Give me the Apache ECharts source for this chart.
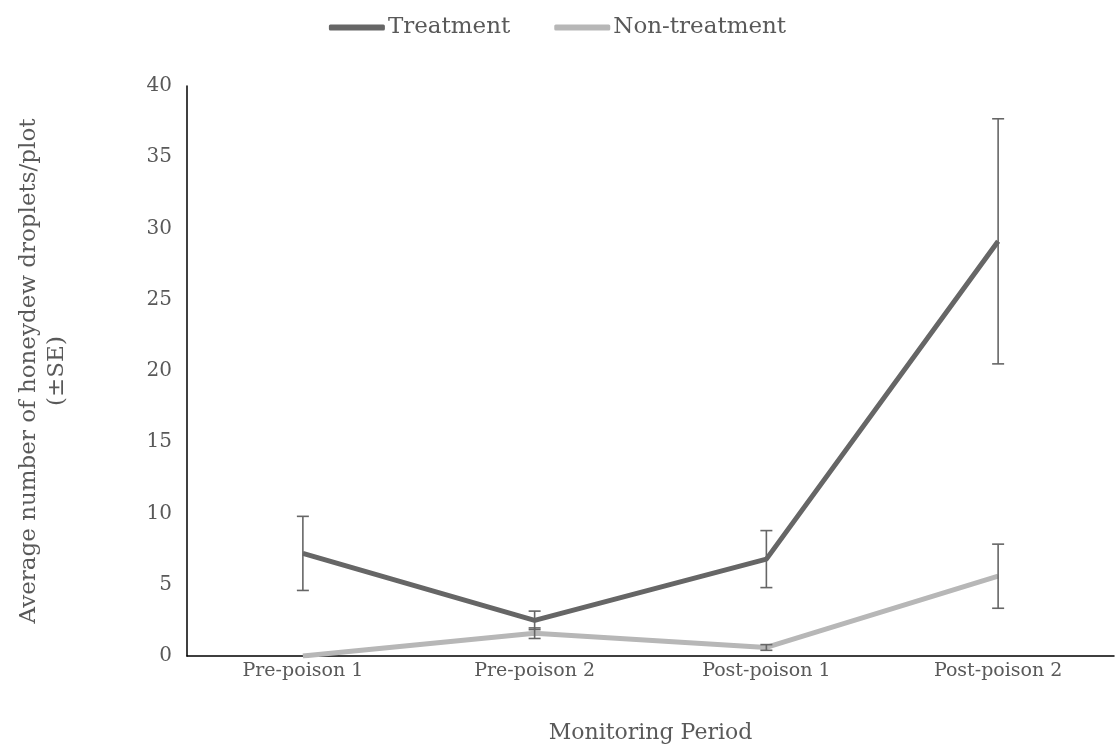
<!DOCTYPE html>
<html><head><meta charset="utf-8">
<script src="https://cdn.jsdelivr.net/npm/echarts@6/dist/echarts.min.js"></script>
<style>html,body{margin:0;padding:0;background:#fff}#c{width:1115px;height:749px}</style>
</head><body><div id="c"></div>
<script>
const categories = ['Pre-poison 1', 'Pre-poison 2', 'Post-poison 1', 'Post-poison 2'];
const treatment = [7.2, 2.5, 6.8, 29.1];
const treatmentSE = [2.6, 0.65, 2.0, 8.6];
const nonTreatment = [0, 1.6, 0.6, 5.6];
const nonTreatmentSE = [0, 0.37, 0.2, 2.25];
const yTicks = [0, 5, 10, 15, 20, 25, 30, 35, 40];

const FONT = 'DejaVu Serif';
const TXT = '#595959';

function errSeries(name, vals, se) {
  return {
    type: 'custom', name: name + ' SE', silent: true, z: 5,
    data: vals.map((v, i) => [i, v - se[i], v + se[i]]),
    renderItem: function (params, api) {
      if (api.value(2) - api.value(1) <= 0) return null;
      const lo = api.coord([api.value(0), api.value(1)]);
      const hi = api.coord([api.value(0), api.value(2)]);
      const w = 6;
      const st = { stroke: '#666666', lineWidth: 1.6 };
      return { type: 'group', children: [
        { type: 'line', shape: { x1: lo[0], y1: lo[1], x2: hi[0], y2: hi[1] }, style: st },
        { type: 'line', shape: { x1: lo[0] - w, y1: lo[1], x2: lo[0] + w, y2: lo[1] }, style: st },
        { type: 'line', shape: { x1: hi[0] - w, y1: hi[1], x2: hi[0] + w, y2: hi[1] }, style: st }
      ]};
    }
  };
}

const chart = echarts.init(document.getElementById('c'));
chart.setOption({
  animation: false,
  textStyle: { fontFamily: FONT, color: TXT },
  legend: {
    top: 11, left: 'center', itemWidth: 56, itemHeight: 6, itemGap: 44,
    icon: 'roundRect',
    textStyle: { fontFamily: FONT, color: TXT, fontSize: 23, padding: [0, 0, 0, -2] },
    data: ['Treatment', 'Non-treatment']
  },
  grid: { left: 187, right: 1, top: 86, bottom: 88 },
  xAxis: {
    type: 'category', data: categories, boundaryGap: true,
    axisLine: { lineStyle: { color: '#000', width: 1.5 } },
    axisTick: { show: false },
    axisLabel: { color: TXT, fontSize: 19, fontFamily: FONT, margin: 6 },
    name: 'Monitoring Period', nameLocation: 'middle', nameGap: 66,
    nameTextStyle: { color: TXT, fontSize: 22, fontFamily: FONT }
  },
  yAxis: {
    type: 'value', min: 0, max: 40, interval: 5,
    axisLine: { show: true, lineStyle: { color: '#000', width: 1.5 } },
    axisTick: { show: false },
    splitLine: { show: false },
    axisLabel: { color: TXT, fontSize: 20, fontFamily: FONT, margin: 15,
      formatter: v => yTicks.includes(v) ? String(v) : '' },
    name: 'Average number of honeydew droplets/plot\n(±SE)', nameLocation: 'middle', nameGap: 116,
    nameTextStyle: { color: TXT, fontSize: 23, fontFamily: FONT, lineHeight: 28 }
  },
  series: [
    { name: 'Treatment', type: 'line', data: treatment, symbol: 'none',
      lineStyle: { color: '#666666', width: 5 }, itemStyle: { color: '#666666' }, z: 3 },
    { name: 'Non-treatment', type: 'line', data: nonTreatment, symbol: 'none',
      lineStyle: { color: '#b7b7b7', width: 5 }, itemStyle: { color: '#b7b7b7' }, z: 2 },
    errSeries('Treatment', treatment, treatmentSE),
    errSeries('Non-treatment', nonTreatment, nonTreatmentSE)
  ]
});
</script></body></html>
